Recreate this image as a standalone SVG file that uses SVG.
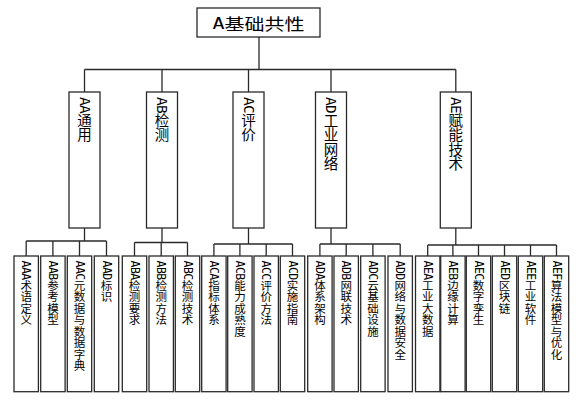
<svg xmlns="http://www.w3.org/2000/svg" width="586" height="400" viewBox="0 0 586 400">
<style>
.box{fill:#fff;stroke:#2a2a2a;stroke-width:1.3}
.ln{fill:none;stroke:#2a2a2a;stroke-width:1.3}
.vt{writing-mode:vertical-rl;font-family:"Noto Sans CJK SC","Noto Sans",sans-serif;fill:#000}
.lat{font-family:"DejaVu Sans Mono","Noto Sans CJK SC",monospace}
.mid{font-size:14.5px}
.mid .lat{letter-spacing:-0.8px}
.leaf{font-size:11.5px}
.leaf .lat{letter-spacing:-0.5px}
.top{font-family:"Noto Sans CJK SC","Noto Sans",sans-serif;font-size:16px;fill:#000}
</style>
<rect width="586" height="400" fill="#fff"/>
<g id="connectors">
<path class="ln" d="M259 37V69.5M84.5 69.5H455.8M84.5 69.5V92M162 69.5V92M248.5 69.5V92M331 69.5V92M455.8 69.5V92"/>
<path class="ln" d="M84.5 228V241M26.2 241H106.5M26.2 241V256M52.9 241V256M79.5 241V256M106.5 241V256"/>
<path class="ln" d="M162 228V242.5M134.5 242.5H187.5M134.5 242.5V256M161.2 242.5V256M187.5 242.5V256"/>
<path class="ln" d="M248.5 228V244M213.9 244H292.5M213.9 244V256M239.9 244V256M266.2 244V256M292.5 244V256"/>
<path class="ln" d="M331 228V244M319.9 244H400.2M319.9 244V256M346.2 244V256M372.9 244V256M400.2 244V256"/>
<path class="ln" d="M455.8 228V245M427.7 245H556.5M427.7 245V256M452.9 245V256M478.5 245V256M504.5 245V256M530.5 245V256M556.5 245V256"/>
</g>
<g id="A"><rect class="box" x="197" y="8" width="123" height="29"/><text class="top" transform="translate(258.5,23) scale(1.25,1)" text-anchor="middle" dominant-baseline="central"><tspan class="lat">A</tspan>基础共性</text></g>
<g id="AA"><rect class="box" x="69" y="92" width="31" height="136"/><text class="vt mid" x="84.5" y="97"><tspan class="lat">AA</tspan>通用</text></g>
<g id="AB"><rect class="box" x="146.5" y="92" width="31" height="136"/><text class="vt mid" x="162" y="97"><tspan class="lat">AB</tspan>检测</text></g>
<g id="AC"><rect class="box" x="233" y="92" width="31" height="136"/><text class="vt mid" x="248.5" y="97"><tspan class="lat">AC</tspan>评价</text></g>
<g id="AD"><rect class="box" x="315.5" y="92" width="31" height="136"/><text class="vt mid" x="331" y="97"><tspan class="lat">AD</tspan>工业网络</text></g>
<g id="AE"><rect class="box" x="440.3" y="92" width="31" height="136"/><text class="vt mid" x="455.8" y="97"><tspan class="lat">AE</tspan>赋能技术</text></g>
<g id="AAA"><rect class="box" x="14" y="256" width="24.4" height="135.7"/><text class="vt leaf" x="26.2" y="260.5"><tspan class="lat">AAA</tspan>术语定义</text></g>
<g id="AAB"><rect class="box" x="40.7" y="256" width="24.4" height="135.7"/><text class="vt leaf" x="52.9" y="260.5"><tspan class="lat">AAB</tspan>参考模型</text></g>
<g id="AAC"><rect class="box" x="67.3" y="256" width="24.4" height="135.7"/><text class="vt leaf" x="79.5" y="260.5"><tspan class="lat">AAC</tspan>元数据与数据字典</text></g>
<g id="AAD"><rect class="box" x="94.3" y="256" width="24.4" height="135.7"/><text class="vt leaf" x="106.5" y="260.5"><tspan class="lat">AAD</tspan>标识</text></g>
<g id="ABA"><rect class="box" x="122.3" y="256" width="24.4" height="135.7"/><text class="vt leaf" x="134.5" y="260.5"><tspan class="lat">ABA</tspan>检测要求</text></g>
<g id="ABB"><rect class="box" x="149" y="256" width="24.4" height="135.7"/><text class="vt leaf" x="161.2" y="260.5"><tspan class="lat">ABB</tspan>检测方法</text></g>
<g id="ABC"><rect class="box" x="175.3" y="256" width="24.4" height="135.7"/><text class="vt leaf" x="187.5" y="260.5"><tspan class="lat">ABC</tspan>检测技术</text></g>
<g id="ACA"><rect class="box" x="201.7" y="256" width="24.4" height="135.7"/><text class="vt leaf" x="213.9" y="260.5"><tspan class="lat">ACA</tspan>指标体系</text></g>
<g id="ACB"><rect class="box" x="227.7" y="256" width="24.4" height="135.7"/><text class="vt leaf" x="239.9" y="260.5"><tspan class="lat">ACB</tspan>能力成熟度</text></g>
<g id="ACC"><rect class="box" x="254" y="256" width="24.4" height="135.7"/><text class="vt leaf" x="266.2" y="260.5"><tspan class="lat">ACC</tspan>评价方法</text></g>
<g id="ACD"><rect class="box" x="280.3" y="256" width="24.4" height="135.7"/><text class="vt leaf" x="292.5" y="260.5"><tspan class="lat">ACD</tspan>实施指南</text></g>
<g id="ADA"><rect class="box" x="307.7" y="256" width="24.4" height="135.7"/><text class="vt leaf" x="319.9" y="260.5"><tspan class="lat">ADA</tspan>体系架构</text></g>
<g id="ADB"><rect class="box" x="334" y="256" width="24.4" height="135.7"/><text class="vt leaf" x="346.2" y="260.5"><tspan class="lat">ADB</tspan>网联技术</text></g>
<g id="ADC"><rect class="box" x="360.7" y="256" width="24.4" height="135.7"/><text class="vt leaf" x="372.9" y="260.5"><tspan class="lat">ADC</tspan>云基础设施</text></g>
<g id="ADD"><rect class="box" x="388" y="256" width="24.4" height="135.7"/><text class="vt leaf" x="400.2" y="260.5"><tspan class="lat">ADD</tspan>网络与数据安全</text></g>
<g id="AEA"><rect class="box" x="415.5" y="256" width="24.4" height="135.7"/><text class="vt leaf" x="427.7" y="260.5"><tspan class="lat">AEA</tspan>工业大数据</text></g>
<g id="AEB"><rect class="box" x="440.7" y="256" width="24.4" height="135.7"/><text class="vt leaf" x="452.9" y="260.5"><tspan class="lat">AEB</tspan>边缘计算</text></g>
<g id="AEC"><rect class="box" x="466.3" y="256" width="24.4" height="135.7"/><text class="vt leaf" x="478.5" y="260.5"><tspan class="lat">AEC</tspan>数字孪生</text></g>
<g id="AED"><rect class="box" x="492.3" y="256" width="24.4" height="135.7"/><text class="vt leaf" x="504.5" y="260.5"><tspan class="lat">AED</tspan>区块链</text></g>
<g id="AEE"><rect class="box" x="518.3" y="256" width="24.4" height="135.7"/><text class="vt leaf" x="530.5" y="260.5"><tspan class="lat">AEE</tspan>工业软件</text></g>
<g id="AEF"><rect class="box" x="544.3" y="256" width="24.4" height="135.7"/><text class="vt leaf" x="556.5" y="260.5"><tspan class="lat">AEF</tspan>算法模型与优化</text></g>
</svg>
